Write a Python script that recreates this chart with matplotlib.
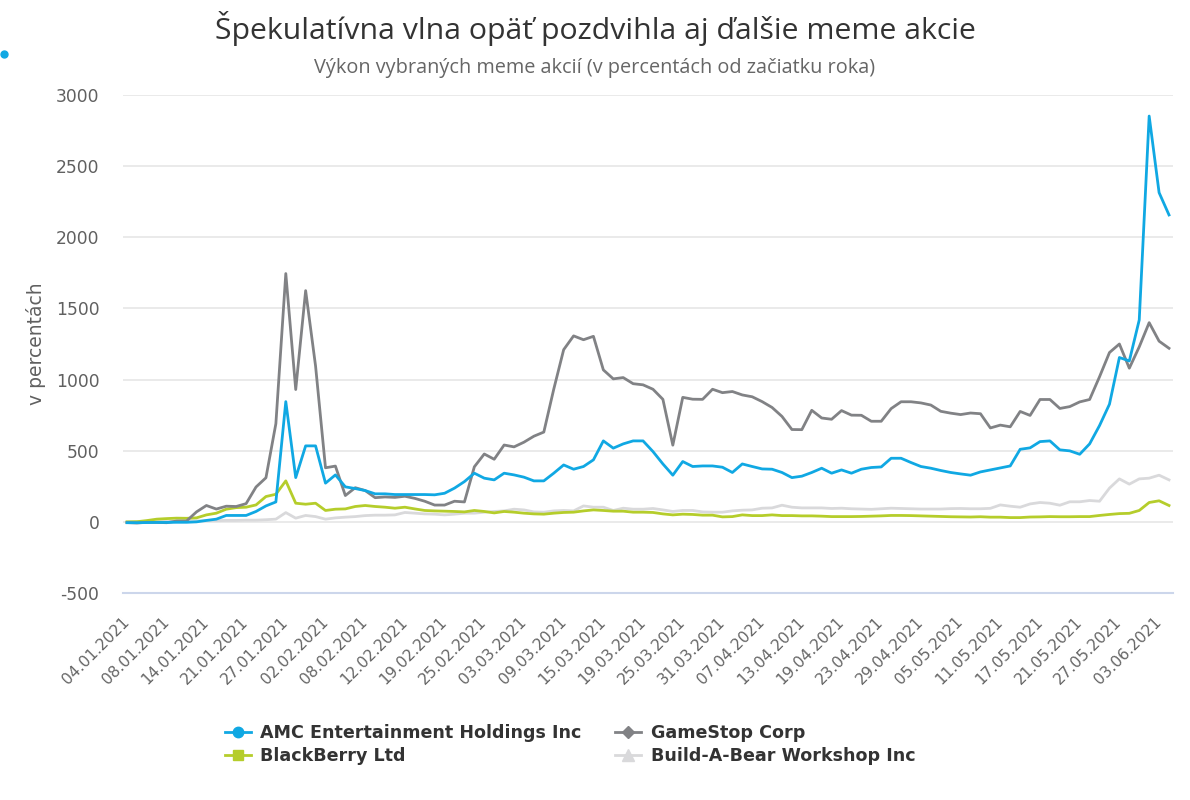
import numpy as np
import matplotlib
matplotlib.use("Agg")
import matplotlib.pyplot as plt
from matplotlib.lines import Line2D

plt.rcParams['font.family'] = ['DejaVu Sans']
plt.rcParams['axes.unicode_minus'] = False

# performance since start of year, % (one value per trading day, 04.01.2021 - 04.06.2021)
amc = [-6, -6, -5, -4, -4, -3, -3, 0, 10, 19, 45, 45, 45, 73, 112, 140, 845, 311, 534, 534,
       272, 330, 246, 234, 220, 197, 197, 192, 192, 192, 192, 190, 201, 237, 283, 342, 307, 295, 342, 330,
       314, 288, 288, 342, 400, 370, 389, 436, 569, 518, 548, 569, 569, 494, 407, 328, 424, 389, 393, 393,
       384, 347, 407, 389, 372, 370, 347, 311, 321, 347, 377, 342, 365, 342, 370, 382, 386, 447, 447, 417,
       389, 377, 361, 347, 337, 328, 351, 365, 379, 393, 510, 520, 564, 569, 506, 499, 475, 548, 677, 827,
       1155, 1131, 1419, 2852, 2314, 2157]
gme = [-5, -8, -3, -4, -6, 6, 6, 70, 115, 90, 110, 108, 128, 245, 310, 690, 1745, 930, 1625, 1095,
       380, 392, 185, 240, 220, 170, 175, 172, 180, 165, 145, 118, 118, 145, 140, 387, 477, 440, 540, 527,
       560, 602, 631, 932, 1210, 1307, 1280, 1304, 1068, 1005, 1014, 971, 963, 932, 861, 539, 875, 862, 861, 932,
       908, 916, 892, 879, 845, 804, 741, 649, 648, 784, 730, 721, 782, 750, 749, 707, 707, 796, 844, 844,
       836, 821, 777, 764, 754, 765, 760, 660, 680, 668, 776, 748, 860, 860, 797, 810, 843, 860, 1020, 1190,
       1250, 1080, 1230, 1400, 1270, 1220]
bb = [0, 1, 9, 19, 23, 26, 25, 28, 49, 61, 89, 100, 103, 119, 178, 194, 288, 131, 124, 131,
      80, 89, 91, 108, 115, 108, 103, 96, 103, 91, 80, 77, 75, 73, 70, 80, 73, 63, 73, 68,
      61, 56, 54, 61, 66, 68, 77, 84, 80, 75, 75, 68, 68, 66, 56, 49, 54, 52, 47, 47,
      35, 37, 49, 44, 44, 49, 44, 44, 42, 42, 40, 37, 37, 37, 38, 40, 42, 45, 45, 44,
      42, 40, 38, 36, 35, 34, 36, 33, 33, 30, 30, 34, 35, 37, 36, 36, 37, 37, 45, 52,
      58, 60, 80, 136, 148, 115]
bab = [0, 2, 3, 4, 5, 5, 6, 7, 8, 8, 10, 10, 12, 12, 15, 19, 65, 26, 45, 37,
       19, 28, 33, 37, 44, 47, 47, 49, 66, 61, 56, 54, 49, 54, 61, 61, 68, 73, 77, 89,
       84, 70, 68, 77, 80, 77, 112, 103, 103, 80, 96, 89, 89, 94, 84, 73, 80, 80, 70, 68,
       68, 77, 82, 84, 96, 98, 117, 103, 98, 98, 98, 94, 96, 92, 90, 88, 92, 96, 94, 92,
       90, 90, 90, 93, 94, 92, 92, 95, 119, 110, 103, 126, 136, 131, 117, 141, 141, 150, 145, 237,
       302, 265, 302, 307, 328, 295]

tick_labels = ['04.01.2021', '08.01.2021', '14.01.2021', '21.01.2021', '27.01.2021', '02.02.2021',
               '08.02.2021', '12.02.2021', '19.02.2021', '25.02.2021', '03.03.2021', '09.03.2021',
               '15.03.2021', '19.03.2021', '25.03.2021', '31.03.2021', '07.04.2021', '13.04.2021',
               '19.04.2021', '23.04.2021', '29.04.2021', '05.05.2021', '11.05.2021', '17.05.2021',
               '21.05.2021', '27.05.2021', '03.06.2021']

names = ['AMC Entertainment Holdings Inc', 'GameStop Corp', 'BlackBerry Ltd', 'Build-A-Bear Workshop Inc']
colors = ['#10a8e3', '#818285', '#b5cd2b', '#d9d9db']
markers = ['o', 'D', 's', '^']

fig = plt.figure(figsize=(11.9, 8), dpi=100)
ax = fig.add_axes([0.1034, 0.25875, 0.8823, 0.6225])

x = np.arange(len(amc))
ax.plot(x, bab, color=colors[3], lw=2.0, zorder=2)
ax.plot(x, bb, color=colors[2], lw=2.0, zorder=3)
ax.plot(x, gme, color=colors[1], lw=2.0, zorder=4)
ax.plot(x, amc, color=colors[0], lw=2.0, zorder=5)

ax.set_xlim(-0.4, 105.4)
ax.set_ylim(-500, 3000)
ax.set_yticks(range(-500, 3001, 500))
ax.yaxis.grid(True, color='#e6e6e6', lw=1.2)
ax.set_axisbelow(True)
for s in ['top', 'right', 'left']:
    ax.spines[s].set_visible(False)
ax.spines['bottom'].set_color('#ccd6eb')
ax.spines['bottom'].set_linewidth(1.5)
ax.tick_params(axis='y', length=0, labelsize=12.3, labelcolor='#606060', pad=17)
ax.set_xticks(np.arange(0, len(amc), 4))
ax.set_xticklabels(tick_labels, rotation=45, ha='right', va='center', rotation_mode='anchor',
                   fontsize=11.2, color='#666666')
ax.tick_params(axis='x', length=0, pad=19)
ax.set_ylabel('v percentách', fontsize=13.5, color='#606060', labelpad=7)

fig.text(0.5, 0.965, 'Špekulatívna vlna opäť pozdvihla aj ďalšie meme akcie',
         ha='center', va='center', fontsize=21.8, color='#333333', family='Open Sans')
fig.text(0.5, 0.915, 'Výkon vybraných meme akcií (v percentách od začiatku roka)',
         ha='center', va='center', fontsize=14.3, color='#666666', family='Open Sans')

msize = {'o': 7.5, 'D': 6.0, 's': 7.0, '^': 8.0}
handles = [Line2D([0], [0], color=c, lw=2.0, marker=m, markersize=msize[m])
           for c, m in zip(colors, markers)]
order = [0, 2, 1, 3]
leg = fig.legend([handles[i] for i in order], [names[i] for i in order], ncol=2,
                 loc='center', bbox_to_anchor=(0.479, 0.069), frameon=False,
                 prop={'weight': 'bold', 'size': 12.6}, handlelength=1.5,
                 columnspacing=1.9, labelspacing=0.3, handletextpad=0.55)
for t in leg.get_texts():
    t.set_color('#333333')

# small blue dot at the top-left edge
fig.add_artist(Line2D([4 / 1190], [1 - 54 / 800], transform=fig.transFigure,
                      marker='o', markersize=5, color='#10a8e3', lw=0))

fig.savefig('out.png', dpi=100)
